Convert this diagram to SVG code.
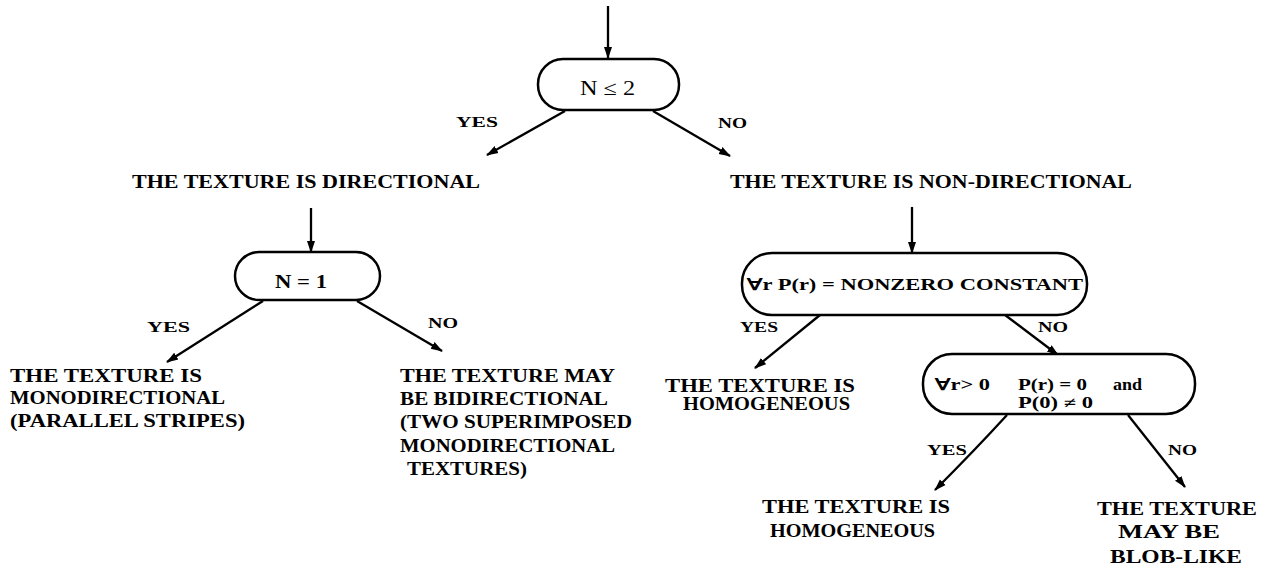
<svg xmlns="http://www.w3.org/2000/svg" width="1271" height="566" viewBox="0 0 1271 566">
<style>
.bg{fill:#fff}
.box{fill:#fff;stroke:#000;stroke-width:2.5}
.t{font-family:"Liberation Serif",serif;font-weight:bold;font-size:18px;fill:#000}
.lbl{font-family:"Liberation Serif",serif;font-weight:bold;font-size:15px;fill:#000}
.bt{font-family:"Liberation Serif",serif;font-size:20px;fill:#000}
.bb{font-family:"Liberation Serif",serif;font-weight:bold;font-size:16px;fill:#000}
.c{stroke:#000;stroke-width:2.3;fill:none;marker-end:url(#ah)}
</style>
<defs>
<marker id="ah" markerUnits="userSpaceOnUse" markerWidth="12" markerHeight="10" refX="11" refY="5" orient="auto">
<path d="M0,1 L12,5 L0,9 Z" fill="#000"/>
</marker>
</defs>
<rect class="bg" x="0" y="0" width="1271" height="566"/>

<g id="connectors">
<line class="c" x1="608" y1="6" x2="608" y2="58"/>
<line class="c" x1="565" y1="111" x2="487" y2="155"/>
<line class="c" x1="653" y1="111" x2="730" y2="156"/>
<line class="c" x1="311" y1="208" x2="311" y2="252"/>
<line class="c" x1="263" y1="301" x2="167" y2="362"/>
<line class="c" x1="357" y1="301" x2="442" y2="351"/>
<line class="c" x1="912" y1="207" x2="912" y2="253"/>
<line class="c" x1="820" y1="315" x2="755" y2="368"/>
<line class="c" x1="1005" y1="315" x2="1058" y2="355"/>
<path class="c" d="M1007,415 Q975,450 935,490"/>
<line class="c" x1="1128" y1="415" x2="1185" y2="487"/>
<text class="lbl" x="456" y="127" textLength="42" lengthAdjust="spacingAndGlyphs">YES</text>
<text class="lbl" x="718" y="128" textLength="29" lengthAdjust="spacingAndGlyphs">NO</text>
<text class="lbl" x="147" y="332" textLength="43" lengthAdjust="spacingAndGlyphs">YES</text>
<text class="lbl" x="428" y="328" textLength="30" lengthAdjust="spacingAndGlyphs">NO</text>
<text class="lbl" x="740" y="332" textLength="38" lengthAdjust="spacingAndGlyphs">YES</text>
<text class="lbl" x="1038" y="332" textLength="30" lengthAdjust="spacingAndGlyphs">NO</text>
<text class="lbl" x="927" y="455" textLength="40" lengthAdjust="spacingAndGlyphs">YES</text>
<text class="lbl" x="1168" y="455" textLength="29" lengthAdjust="spacingAndGlyphs">NO</text>
</g>

<g id="n1">
<rect class="box" x="538" y="59" width="141" height="51" rx="25" ry="25"/>
<text class="bt" x="580" y="95" textLength="55" lengthAdjust="spacingAndGlyphs">N ≤ 2</text>
</g>

<g id="directional">
<text class="t" x="132" y="188" textLength="348" lengthAdjust="spacingAndGlyphs">THE TEXTURE IS DIRECTIONAL</text>
</g>

<g id="nondirectional">
<text class="t" x="730" y="188" textLength="402" lengthAdjust="spacingAndGlyphs">THE TEXTURE IS NON-DIRECTIONAL</text>
</g>

<g id="n2">
<rect class="box" x="235" y="252" width="145" height="48" rx="24" ry="24"/>
<text class="bb" x="275" y="288" textLength="52" lengthAdjust="spacingAndGlyphs" style="font-size:18px">N = 1</text>
</g>

<g id="mono">
<text class="t" x="10" y="382" textLength="192" lengthAdjust="spacingAndGlyphs">THE TEXTURE IS</text>
<text class="t" x="10" y="404" textLength="215" lengthAdjust="spacingAndGlyphs">MONODIRECTIONAL</text>
<text class="t" x="10" y="427" textLength="235" lengthAdjust="spacingAndGlyphs">(PARALLEL STRIPES)</text>
</g>

<g id="bi">
<text class="t" x="400" y="382" textLength="215" lengthAdjust="spacingAndGlyphs">THE TEXTURE MAY</text>
<text class="t" x="400" y="405" textLength="208" lengthAdjust="spacingAndGlyphs">BE BIDIRECTIONAL</text>
<text class="t" x="400" y="428" textLength="232" lengthAdjust="spacingAndGlyphs">(TWO SUPERIMPOSED</text>
<text class="t" x="400" y="452" textLength="215" lengthAdjust="spacingAndGlyphs">MONODIRECTIONAL</text>
<text class="t" x="407" y="475" textLength="120" lengthAdjust="spacingAndGlyphs">TEXTURES)</text>
</g>

<g id="n3">
<rect class="box" x="742" y="253" width="345" height="62" rx="30" ry="30"/>
<text class="bb" x="747" y="290" textLength="336" lengthAdjust="spacingAndGlyphs">∀r P(r) = NONZERO CONSTANT</text>
</g>

<g id="homog1">
<text class="t" x="665" y="392" textLength="190" lengthAdjust="spacingAndGlyphs">THE TEXTURE IS</text>
<text class="t" x="683" y="410" textLength="167" lengthAdjust="spacingAndGlyphs">HOMOGENEOUS</text>
</g>

<g id="n4">
<rect class="box" x="923" y="354" width="272" height="60" rx="29" ry="29"/>
<text class="bb" x="935" y="390" textLength="55" lengthAdjust="spacingAndGlyphs">∀r&gt; 0</text>
<text class="bb" x="1018" y="390" textLength="69" lengthAdjust="spacingAndGlyphs">P(r) = 0</text>
<text class="bb" x="1113" y="390" textLength="29" lengthAdjust="spacingAndGlyphs">and</text>
<text class="bb" x="1018" y="408" textLength="75" lengthAdjust="spacingAndGlyphs">P(0) ≠ 0</text>
</g>

<g id="homog2">
<text class="t" x="762" y="513" textLength="188" lengthAdjust="spacingAndGlyphs">THE TEXTURE IS</text>
<text class="t" x="770" y="537" textLength="165" lengthAdjust="spacingAndGlyphs">HOMOGENEOUS</text>
</g>

<g id="blob">
<text class="t" x="1097" y="515" textLength="160" lengthAdjust="spacingAndGlyphs">THE TEXTURE</text>
<text class="t" x="1118" y="538" textLength="102" lengthAdjust="spacingAndGlyphs">MAY BE</text>
<text class="t" x="1110" y="563" textLength="132" lengthAdjust="spacingAndGlyphs">BLOB-LIKE</text>
</g>
</svg>
